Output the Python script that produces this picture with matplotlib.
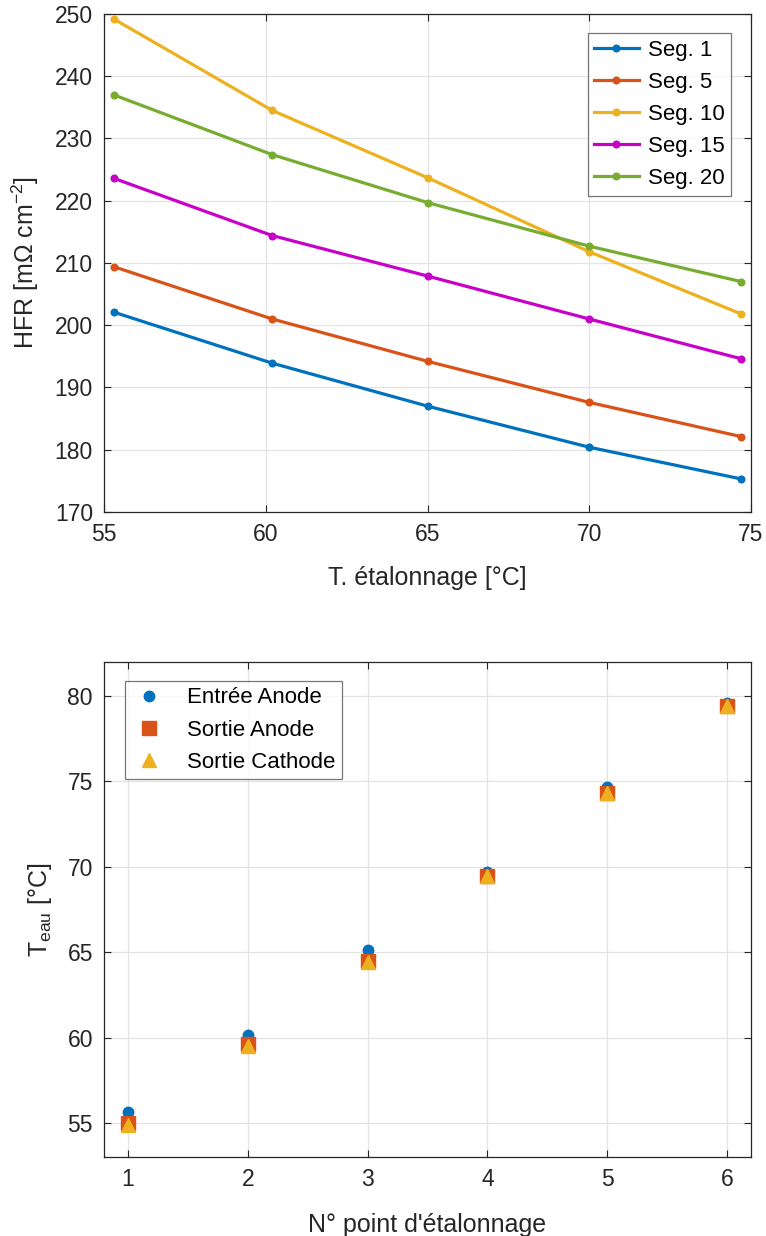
import matplotlib.pyplot as plt
import numpy as np

plt.rcParams['font.family'] = ['Liberation Sans', 'DejaVu Sans']
plt.rcParams['mathtext.fontset'] = 'custom'
plt.rcParams['mathtext.rm'] = 'Liberation Sans'
plt.rcParams['mathtext.it'] = 'Liberation Sans'

# --- top panel data: HFR vs calibration temperature
T_cal = [55.3, 60.2, 65.0, 70.0, 74.7]
seg_names = ['Seg. 1', 'Seg. 5', 'Seg. 10', 'Seg. 15', 'Seg. 20']
hfr_seg1 = [202.1, 193.9, 187.0, 180.4, 175.3]
hfr_seg5 = [209.4, 201.0, 194.2, 187.6, 182.1]
hfr_seg10 = [249.2, 234.5, 223.7, 211.8, 201.8]
hfr_seg15 = [223.6, 214.4, 207.9, 201.0, 194.6]
hfr_seg20 = [237.0, 227.4, 219.7, 212.7, 207.0]
seg_colors = ['#0072BD', '#D95319', '#EDB120', '#C800C8', '#77AC30']

# --- bottom panel data: water temperatures per calibration point
pts = [1, 2, 3, 4, 5, 6]
t_in_anode = [55.66, 60.17, 65.13, 69.7, 74.66, 79.6]
t_out_anode = [55.0, 59.6, 64.5, 69.45, 74.35, 79.45]
t_out_cathode = [54.85, 59.5, 64.4, 69.45, 74.3, 79.45]

axcol = '#262626'
gridcol = '#E3E3E3'
tsize = 16.5
lsize = 18

fig = plt.figure(figsize=(7.66, 12.36), dpi=100)

def style(ax):
    ax.grid(True, color=gridcol, linewidth=0.9)
    ax.set_axisbelow(True)
    ax.tick_params(direction='in', top=True, right=True, labelsize=tsize,
                   color=axcol, labelcolor=axcol, length=5, width=0.8, pad=8)
    for s in ax.spines.values():
        s.set_color(axcol)
        s.set_linewidth(0.9)

ax1 = fig.add_axes([0.1358, 0.5858, 0.8446, 0.4029])
series = [hfr_seg1, hfr_seg5, hfr_seg10, hfr_seg15, hfr_seg20]
for y, c, lab in zip(series, seg_colors, seg_names):
    ax1.plot(T_cal, y, '-o', color=c, lw=2.3, ms=4.8, label=lab)
ax1.set_xlim(55, 75)
ax1.set_ylim(170, 250)
ax1.set_xticks(np.arange(55, 76, 5))
ax1.set_yticks(np.arange(170, 251, 10))
style(ax1)
ax1.set_xlabel('T. étalonnage [°C]', fontsize=lsize, color=axcol, labelpad=14)
ax1.set_ylabel(r'HFR [mΩ cm$^{-2}$]', fontsize=lsize, color=axcol, labelpad=10)
leg = ax1.legend(loc='upper right', fontsize=16, bbox_to_anchor=(0.969, 0.962),
                 fancybox=False, edgecolor='#555555', handlelength=2.0,
                 borderpad=0.3, labelspacing=0.5, handletextpad=0.4,
                 borderaxespad=0)
leg.get_frame().set_linewidth(0.9)

ax2 = fig.add_axes([0.1358, 0.0639, 0.8446, 0.4005])
ax2.plot(pts, t_in_anode, 'o', color='#0072BD', ms=7.5, label='Entrée Anode')
ax2.plot(pts, t_out_anode, 's', color='#D95319', ms=9.5, label='Sortie Anode')
ax2.plot(pts, t_out_cathode, '^', color='#EDB120', ms=10, label='Sortie Cathode')
ax2.set_xlim(0.8, 6.2)
ax2.set_ylim(53, 82)
ax2.set_xticks(pts)
ax2.set_yticks(np.arange(55, 81, 5))
style(ax2)
ax2.set_xlabel("N° point d'étalonnage", fontsize=lsize, color=axcol, labelpad=16)
ax2.set_ylabel(r'T$_{\mathrm{eau}}$ [°C]', fontsize=lsize, color=axcol, labelpad=10)
leg2 = ax2.legend(loc='upper left', fontsize=16, bbox_to_anchor=(0.032, 0.962),
                  fancybox=False, edgecolor='#555555', handlelength=1.6,
                  borderpad=0.3, labelspacing=0.5, handletextpad=0.9,
                  borderaxespad=0)
leg2.get_frame().set_linewidth(0.9)

fig.savefig('out.png', dpi=100)
